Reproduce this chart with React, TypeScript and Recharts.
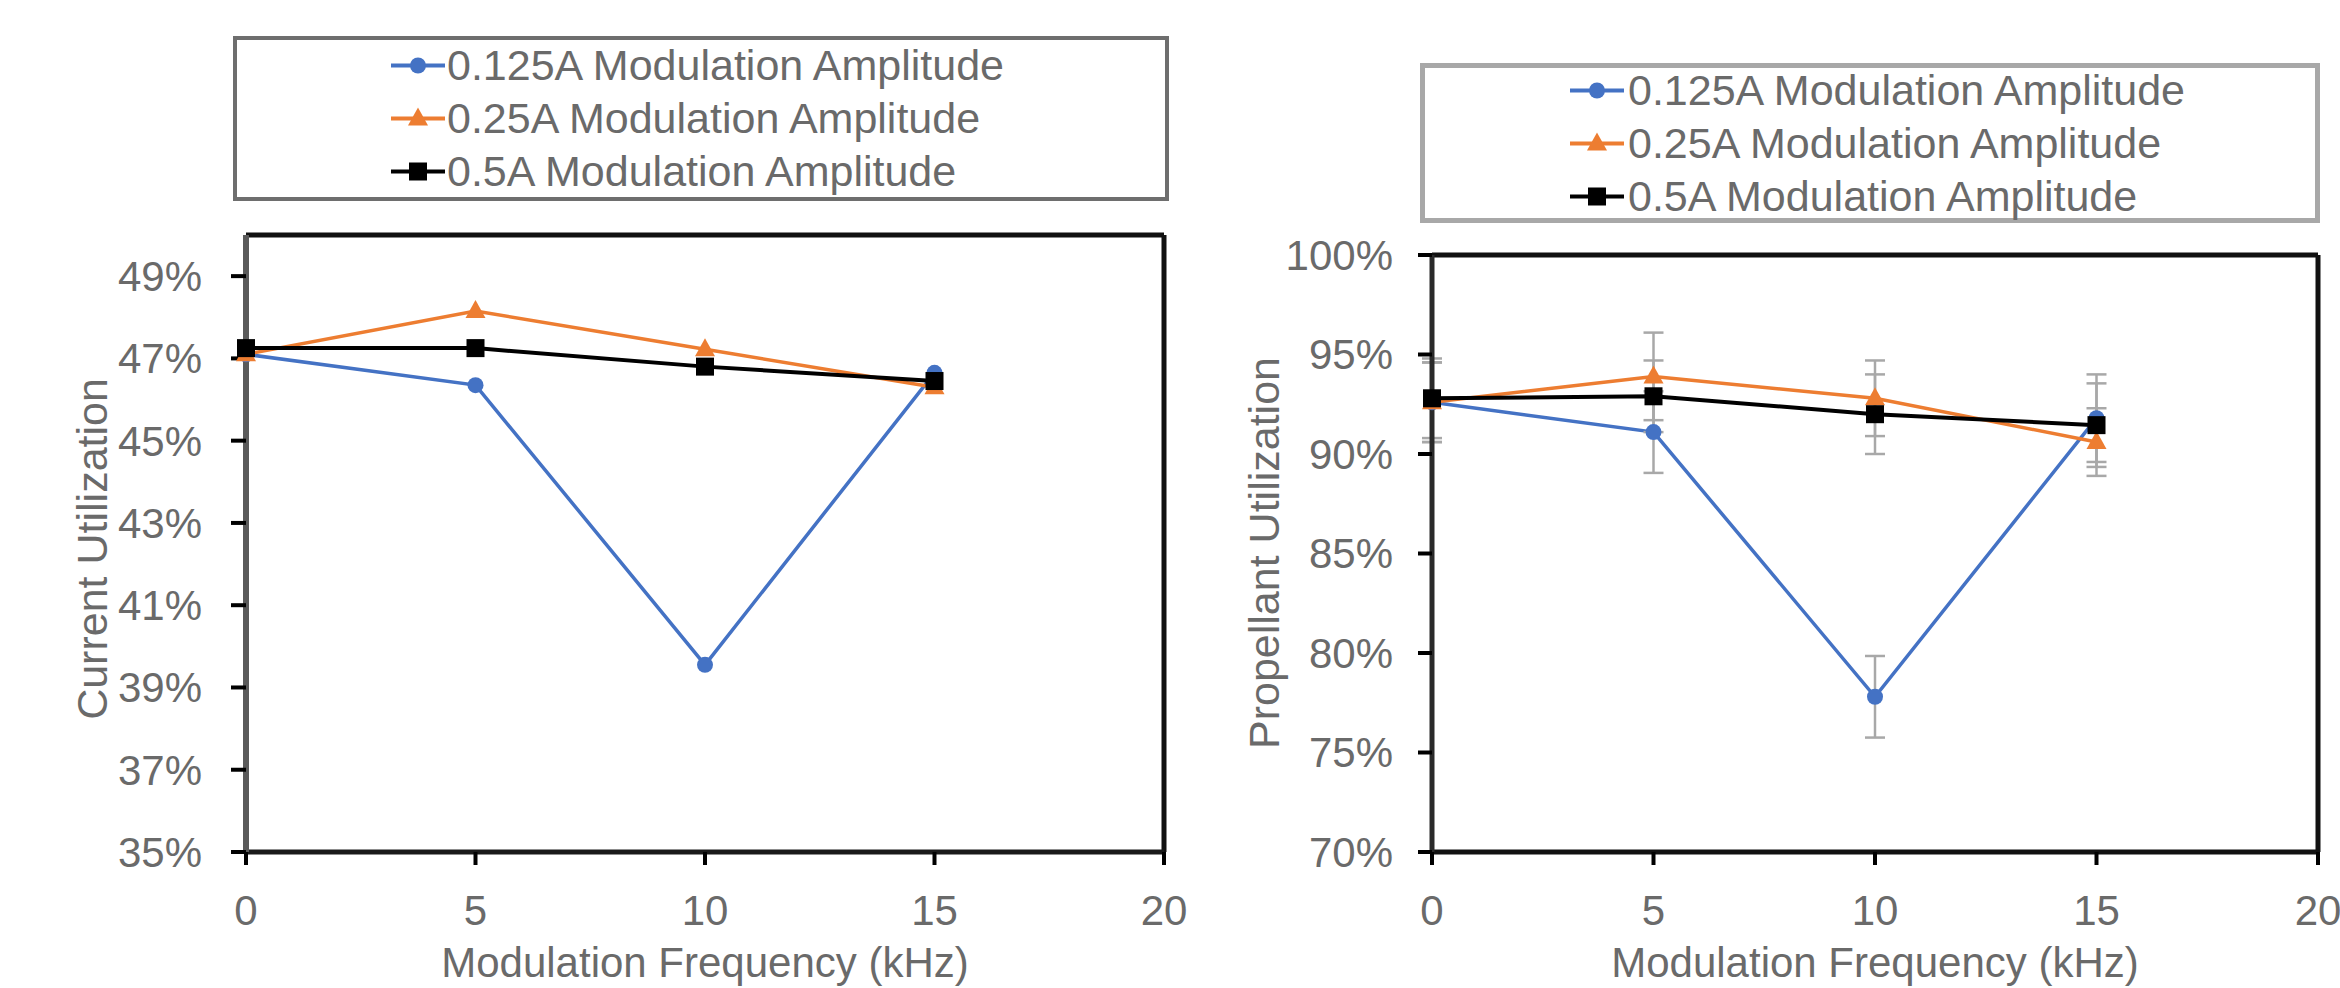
import { LineChart, Line, XAxis, YAxis, ErrorBar, Legend, ReferenceLine } from 'recharts'

const BLUE = '#4472C4'
const ORANGE = '#ED7D31'
const BLACK = '#000000'
const TEXT = '#6a6a6a'

// modulation frequency (kHz)
const freq = [0, 5, 10, 15]
const xTicks = [0, 5, 10, 15, 20]

// current utilization (%)
const current125 = [47.1, 46.35, 39.55, 46.65]
const current25 = [47.1, 48.15, 47.22, 46.3]
const current5 = [47.25, 47.25, 46.8, 46.45]
const currentTicks = [35, 37, 39, 41, 43, 45, 47, 49]

// propellant utilization (%) and its error bars
const prop125 = [92.6, 91.1, 77.8, 91.8]
const prop25 = [92.6, 93.9, 92.8, 90.6]
const prop5 = [92.8, 92.9, 92.0, 91.45]
const prop125Err = [2.0, 2.05, 2.05, 2.2]
const prop25Err = [2.0, 2.2, 1.9, 1.7]
const prop5Err = [2.0, 1.8, 2.0, 2.1]
const propTicks = [70, 75, 80, 85, 90, 95, 100]

const names = ['0.125A Modulation Amplitude', '0.25A Modulation Amplitude', '0.5A Modulation Amplitude']
const colors = [BLUE, ORANGE, BLACK]
const shapes = ['circle', 'triangle', 'square']

const currentData = freq.map((f, i) => ({ freq: f, a: current125[i], b: current25[i], c: current5[i] }))
const propData = freq.map((f, i) => ({
  freq: f,
  a: prop125[i], b: prop25[i], c: prop5[i],
  aErr: prop125Err[i], bErr: prop25Err[i], cErr: prop5Err[i],
}))

const Marker = ({ kind, cx, cy }: { kind: string; cx: number; cy: number }) => {
  if (kind === 'circle') return <circle cx={cx} cy={cy} r={8} fill={BLUE} />
  if (kind === 'triangle') return <polygon points={`${cx},${cy - 11} ${cx - 10},${cy + 7} ${cx + 10},${cy + 7}`} fill={ORANGE} />
  return <rect x={cx - 9} y={cy - 9} width={18} height={18} fill={BLACK} />
}

const dotFor = (kind: string) => (p: any) => <Marker key={p.index} kind={kind} cx={p.cx} cy={p.cy} />

const LegendBox = ({ border, iconLeft, textLeft, firstRow }: { border: string; iconLeft: number; textLeft: number; firstRow: number }) => (
  <div style={{ position: 'relative', width: '100%', height: '100%', boxSizing: 'border-box', border, background: '#fff' }}>
    {names.map((n, i) => (
      <div key={n} style={{ position: 'absolute', left: 0, top: firstRow + i * 53 - 26, height: 53, width: '100%' }}>
        <svg style={{ position: 'absolute', left: iconLeft, top: 0 }} width={54} height={53}>
          <line x1={0} x2={54} y1={26.5} y2={26.5} stroke={colors[i]} strokeWidth={4} />
          <Marker kind={shapes[i]} cx={27} cy={26.5} />
        </svg>
        <span style={{ position: 'absolute', left: textLeft, top: 0, lineHeight: '53px', fontSize: 43, color: TEXT, whiteSpace: 'nowrap' }}>{n}</span>
      </div>
    ))}
  </div>
)

const xTitle = (text: string) => ({ viewBox }: any) => (
  <text x={viewBox.x + viewBox.width / 2} y={977} textAnchor="middle" fontSize={42} fill={TEXT}>{text}</text>
)

const yTitle = (text: string, x: number, y: number) => () => (
  <text transform={`translate(${x},${y}) rotate(-90)`} textAnchor="middle" fontSize={43} fill={TEXT}>{text}</text>
)

const pct = (v: number) => `${v}%`

export default function App() {
  return (
    <div style={{ position: 'absolute', left: 0, top: 0, width: 2340, height: 988, background: '#fff', overflow: 'hidden', fontFamily: '"Liberation Sans", Arial, sans-serif' }}>
      <div style={{ position: 'absolute', left: 0, top: 0 }}>
        <LineChart width={1200} height={988} data={currentData} margin={{ top: 235, right: 36, left: 96, bottom: 36 }}>
          <XAxis dataKey="freq" type="number" domain={[0, 20]} ticks={xTicks} interval={0} height={100}
            axisLine={{ stroke: '#1a1a1a', strokeWidth: 5 }} tickLine={{ stroke: '#000', strokeWidth: 4 }} tickSize={13} tickMargin={30}
            tick={{ fill: TEXT, fontSize: 42 }} label={{ content: xTitle('Modulation Frequency (kHz)') }} />
          <YAxis type="number" domain={[35, 50]} ticks={currentTicks} interval={0} width={150} tickFormatter={pct}
            axisLine={{ stroke: '#5a5a5a', strokeWidth: 6 }} tickLine={{ stroke: '#000', strokeWidth: 4 }} tickSize={15} tickMargin={29}
            tick={{ fill: TEXT, fontSize: 42 }} label={{ content: yTitle('Current Utilization', 107, 549) }} />
          <ReferenceLine y={50} stroke="#111" strokeWidth={5} />
          <ReferenceLine x={20} stroke="#111" strokeWidth={5} />
          <Line dataKey="a" name={names[0]} type="linear" stroke={BLUE} strokeWidth={3.5} dot={dotFor('circle')} activeDot={false} isAnimationActive={false} />
          <Line dataKey="b" name={names[1]} type="linear" stroke={ORANGE} strokeWidth={3.5} dot={dotFor('triangle')} activeDot={false} isAnimationActive={false} />
          <Line dataKey="c" name={names[2]} type="linear" stroke={BLACK} strokeWidth={4} dot={dotFor('square')} activeDot={false} isAnimationActive={false} />
          <Legend layout="vertical" align="center" verticalAlign="middle"
            wrapperStyle={{ left: 233, top: 36, width: 936, height: 165 }}
            content={() => <LegendBox border="4px solid #6e6e6e" iconLeft={154} textLeft={210} firstRow={25} />} />
        </LineChart>
      </div>
      <div style={{ position: 'absolute', left: 1200, top: 0 }}>
        <LineChart width={1140} height={988} data={propData} margin={{ top: 255, right: 22, left: 82, bottom: 36 }}>
          <XAxis dataKey="freq" type="number" domain={[0, 20]} ticks={xTicks} interval={0} height={100}
            axisLine={{ stroke: '#111', strokeWidth: 5 }} tickLine={{ stroke: '#000', strokeWidth: 4 }} tickSize={13} tickMargin={30}
            tick={{ fill: TEXT, fontSize: 42 }} label={{ content: xTitle('Modulation Frequency (kHz)') }} />
          <YAxis type="number" domain={[70, 100]} ticks={propTicks} interval={0} width={150} tickFormatter={pct}
            axisLine={{ stroke: '#2a2a2a', strokeWidth: 5 }} tickLine={{ stroke: '#000', strokeWidth: 4 }} tickSize={14} tickMargin={25}
            tick={{ fill: TEXT, fontSize: 42 }} label={{ content: yTitle('Propellant Utilization', 79, 553) }} />
          <ReferenceLine y={100} stroke="#111" strokeWidth={5} />
          <ReferenceLine x={20} stroke="#111" strokeWidth={5} />
          <Line dataKey="a" name={names[0]} type="linear" stroke={BLUE} strokeWidth={3.5} dot={dotFor('circle')} activeDot={false} isAnimationActive={false}>
            <ErrorBar dataKey="aErr" direction="y" width={10} strokeWidth={2.5} stroke="#a8a8a8" />
          </Line>
          <Line dataKey="b" name={names[1]} type="linear" stroke={ORANGE} strokeWidth={3.5} dot={dotFor('triangle')} activeDot={false} isAnimationActive={false}>
            <ErrorBar dataKey="bErr" direction="y" width={10} strokeWidth={2.5} stroke="#a8a8a8" />
          </Line>
          <Line dataKey="c" name={names[2]} type="linear" stroke={BLACK} strokeWidth={4} dot={dotFor('square')} activeDot={false} isAnimationActive={false}>
            <ErrorBar dataKey="cErr" direction="y" width={10} strokeWidth={2.5} stroke="#a8a8a8" />
          </Line>
          <Legend layout="vertical" align="center" verticalAlign="middle"
            wrapperStyle={{ left: 220, top: 63, width: 900, height: 160 }}
            content={() => <LegendBox border="5px solid #a8a8a8" iconLeft={145} textLeft={203} firstRow={22} />} />
        </LineChart>
      </div>
    </div>
  )
}
